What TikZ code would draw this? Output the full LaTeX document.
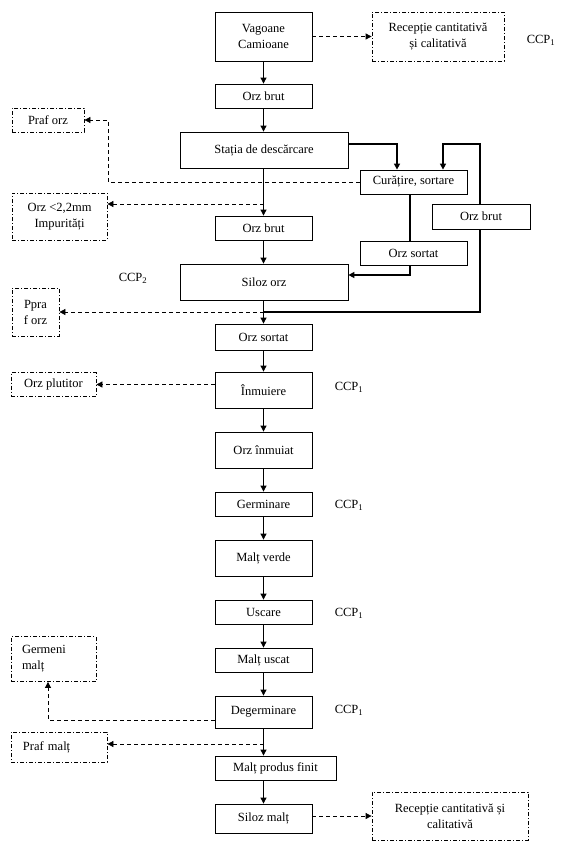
\documentclass[tikz,border=0pt]{standalone}
\usepackage{fontspec}
\setmainfont{Liberation Serif}
\usetikzlibrary{arrows.meta}

\begin{document}
\begin{tikzpicture}[x=1pt, y=-1pt,
    proc/.style={draw, line width=0.8pt, fill=white, align=center, inner sep=0pt, font=\fontsize{12.5}{16}\selectfont},
    waste/.style={proc, dash pattern=on 4pt off 2pt on 1pt off 2pt},
    flow/.style={line width=0.8pt, -{Triangle[length=6pt,width=6pt]}},
    loss/.style={flow, dash pattern=on 4pt off 3pt},
    recirc/.style={line width=2pt},
    ccp/.style={font=\fontsize{12.5}{16}\selectfont}]
    \useasboundingbox (0,0) rectangle (579,843);

    % Main line
    \node[proc, minimum width=97pt, minimum height=49pt] (vag) at (263.5,36.5) {Vagoane\\Camioane};
    \node[proc, minimum width=97pt, minimum height=24pt] (brut1) at (263.5,96) {Orz brut};
    \node[proc, minimum width=168pt, minimum height=36pt] (statia) at (264,150) {Stația de descărcare};
    \node[proc, minimum width=97pt, minimum height=24pt] (brut2) at (263.5,228) {Orz brut};
    \node[proc, minimum width=168pt, minimum height=36pt] (siloz) at (264,282) {Siloz orz};
    \node[proc, minimum width=97pt, minimum height=26pt] (sortat) at (263.5,337) {Orz sortat};
    \node[proc, minimum width=97pt, minimum height=36pt] (inmuiere) at (263.5,390) {Înmuiere};
    \node[proc, minimum width=97pt, minimum height=36pt] (inmuiat) at (263.5,450) {Orz înmuiat};
    \node[proc, minimum width=97pt, minimum height=24pt] (germ) at (263.5,504) {Germinare};
    \node[proc, minimum width=97pt, minimum height=36pt] (verde) at (263.5,558) {Malț verde};
    \node[proc, minimum width=97pt, minimum height=24pt] (uscare) at (263.5,612) {Uscare};
    \node[proc, minimum width=97pt, minimum height=24pt] (uscat) at (263.5,660) {Malț uscat};
    \node[proc, minimum width=97pt, minimum height=32pt] (degerm) at (263.5,712) {Degerminare};
    \node[proc, minimum width=121pt, minimum height=24pt] (finit) at (275.5,768) {Malț produs finit};
    \node[proc, minimum width=97pt, minimum height=29pt] (silozm) at (263.5,818.5) {Siloz malț};

    % Cleaning branch
    \node[proc, minimum width=107pt, minimum height=24pt] (cur) at (413.5,182) {Curățire, sortare};
    \node[proc, minimum width=107pt, minimum height=24pt] (sortR) at (413.5,253) {Orz sortat};

    % Losses and reception
    \node[waste, minimum width=132pt, minimum height=49pt] (recT) at (438,36.5) {Recepție cantitativă\\și calitativă};
    \node[waste, minimum width=72pt, minimum height=24pt] (prafO) at (48,120) {Praf orz};
    \node[waste, minimum width=95pt, minimum height=47pt] (impur) at (59.5,216.5) {Orz <2,2mm\\Impurități};
    \node[waste, minimum width=47pt, minimum height=48pt] (ppra) at (35.5,312) {Ppra\\f orz};
    \node[waste, minimum width=85pt, minimum height=24pt] (plut) at (53.5,384.5) {Orz plutitor};
    \node[waste, minimum width=85pt, minimum height=45pt, text width=63pt, align=left] (germeni) at (53.5,659) {Germeni\\malț};
    \node[waste, minimum width=96pt, minimum height=30pt, text width=72pt, align=left] (prafM) at (59,747) {Praf malț};
    \node[waste, minimum width=156pt, minimum height=48pt] (recB) at (450,816) {Recepție cantitativă și\\calitativă};

    % CCP marks
    \node[ccp] (ccpA) at (541,40) {CCP\textsubscript{1}};
    \node[ccp] (ccpB) at (133,278) {CCP\textsubscript{2}};
    \node[ccp] (ccpC) at (349,387) {CCP\textsubscript{1}};
    \node[ccp] (ccpD) at (349,505) {CCP\textsubscript{1}};
    \node[ccp] (ccpE) at (349,613) {CCP\textsubscript{1}};
    \node[ccp] (ccpF) at (349,710) {CCP\textsubscript{1}};

    % Junctions
    \coordinate (j1) at (263.5,204);
    \coordinate (j2) at (263.5,312);
    \coordinate (j3) at (263.5,744);
    \coordinate (k1) at (108,120);
    \coordinate (k2) at (48,720);
    \coordinate (r1) at (397,144);
    \coordinate (r2) at (480,144);
    \coordinate (r3) at (443,144);
    \coordinate (r4) at (410,275);

    % Main flow
    \draw[flow] (vag.south) -- (brut1.north);
    \draw[flow] (brut1.south) -- (brut1.south |- statia.north);
    \draw[flow] (statia.south -| brut2.north) -- (brut2.north);
    \draw[flow] (brut2.south) -- (brut2.south |- siloz.north);
    \draw[flow] (siloz.south -| sortat.north) -- (sortat.north);
    \draw[flow] (sortat.south) -- (inmuiere.north);
    \draw[flow] (inmuiere.south) -- (inmuiat.north);
    \draw[flow] (inmuiat.south) -- (germ.north);
    \draw[flow] (germ.south) -- (verde.north);
    \draw[flow] (verde.south) -- (uscare.north);
    \draw[flow] (uscare.south) -- (uscat.north);
    \draw[flow] (uscat.south) -- (degerm.north);
    \draw[flow] (degerm.south) -- (degerm.south |- finit.north);
    \draw[flow] (silozm.north |- finit.south) -- (silozm.north);

    % Dashed outputs
    \draw[loss] (vag.east) -- (recT.west);
    \draw[loss] (cur.west) -| (k1) -- (prafO.east);
    \draw[loss] (j1) -- (j1 -| impur.east);
    \draw[loss] (j2) -- (ppra.east);
    \draw[loss] (inmuiere.west |- plut.east) -- (plut.east);
    \draw[loss] (degerm.west |- k2) -- (k2) -- (k2 |- germeni.south);
    \draw[loss] (j3) -- (j3 -| prafM.east);
    \draw[loss] (silozm.east |- recB.west) -- (recB.west);

    % Cleaning loop
    \draw[recirc, -{Triangle[length=6pt,width=6pt]}] (statia.east |- r1) -| (r1 |- cur.north);
    \draw[recirc, -{Triangle[length=6pt,width=6pt]}] (j2) -| (r2) -- (r3) -- (r3 |- cur.north);
    \draw[recirc] (r4 |- cur.south) -- (r4 |- sortR.north);
    \draw[recirc, -{Triangle[length=6pt,width=6pt]}] (r4 |- sortR.south) -- (r4) -- (r4 -| siloz.east);
    \node[proc, minimum width=98pt, minimum height=25pt] (brutR) at (481,216.5) {Orz brut};
\end{tikzpicture}
\end{document}
